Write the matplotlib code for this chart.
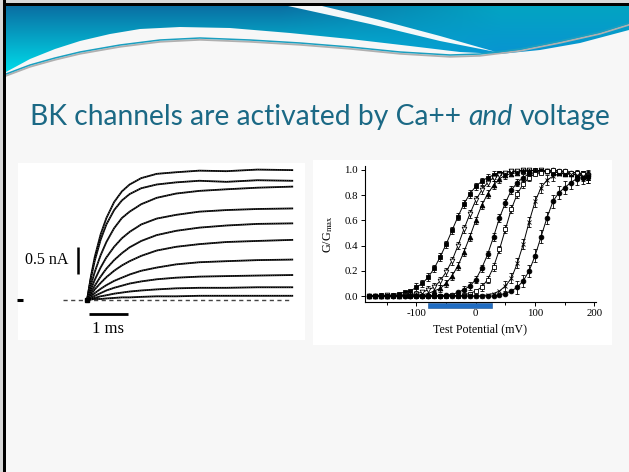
import numpy as np
import matplotlib
matplotlib.use("Agg")
import matplotlib.pyplot as plt
from matplotlib.patches import Rectangle, Polygon
import matplotlib.transforms as mtransforms

# ---------------- data: left panel (K+ current traces, nA vs ms) ----------------
trace_time_ms = [0, 0.1, 0.2, 0.35, 0.5, 0.7, 0.9, 1.1, 1.4, 1.8, 2.3, 2.9, 3.6, 4.4, 5.3]
trace_1 = [0, 0.44, 0.81, 1.23, 1.54, 1.84, 2.04, 2.17, 2.29, 2.37, 2.40, 2.43, 2.42, 2.45, 2.44]
trace_2 = [0, 0.41, 0.74, 1.13, 1.42, 1.69, 1.87, 1.99, 2.10, 2.17, 2.21, 2.24, 2.22, 2.25, 2.24]
trace_3 = [0, 0.28, 0.53, 0.84, 1.09, 1.35, 1.54, 1.66, 1.80, 1.92, 2.00, 2.05, 2.08, 2.11, 2.13]
trace_4 = [0, 0.20, 0.38, 0.61, 0.80, 1.00, 1.16, 1.28, 1.42, 1.53, 1.60, 1.66, 1.69, 1.71, 1.72]
trace_5 = [0, 0.14, 0.27, 0.44, 0.59, 0.75, 0.88, 0.99, 1.11, 1.22, 1.30, 1.36, 1.40, 1.43, 1.44]
trace_6 = [0, 0.10, 0.20, 0.32, 0.43, 0.55, 0.65, 0.73, 0.83, 0.93, 1.00, 1.05, 1.09, 1.11, 1.13]
trace_7 = [0, 0.07, 0.13, 0.21, 0.28, 0.36, 0.42, 0.48, 0.55, 0.61, 0.67, 0.71, 0.73, 0.75, 0.76]
trace_8 = [0, 0.04, 0.08, 0.13, 0.18, 0.23, 0.27, 0.31, 0.35, 0.39, 0.42, 0.44, 0.45, 0.46, 0.47]
trace_9 = [0, 0.02, 0.04, 0.07, 0.09, 0.12, 0.14, 0.16, 0.18, 0.20, 0.22, 0.23, 0.23, 0.24, 0.24]
trace_10 = [0, 0.01, 0.02, 0.02, 0.03, 0.04, 0.05, 0.05, 0.06, 0.07, 0.07, 0.08, 0.08, 0.08, 0.08]
traces = [trace_1, trace_2, trace_3, trace_4, trace_5, trace_6, trace_7, trace_8, trace_9, trace_10]
scale_current_nA = 0.5
scale_time_ms = 1.0
scale_current_label = "0.5 nA"
scale_time_label = "1 ms"

# ---------------- data: right panel (G/Gmax vs test potential) ----------------
voltage_mV = [-180, -170, -160, -150, -140, -130, -120, -110, -100, -90,
              -80, -70, -60, -50, -40, -30, -20, -10, 0, 10,
              20, 30, 40, 50, 60, 70, 80, 90, 100, 110,
              120, 130, 140, 150, 160, 170, 180, 190]
gv_A = [0.00, 0.00, 0.01, 0.00, 0.01, 0.02, 0.03, 0.04, 0.07, 0.10,
        0.15, 0.22, 0.31, 0.41, 0.52, 0.63, 0.73, 0.81, 0.87, 0.91,
        0.94, 0.96, 0.98, 0.98, 0.99, 0.99, 1.00, 0.99, 1.00, 0.99,
        0.99, 0.98, 0.98, 0.97, 0.97, 0.96, 0.96, 0.95]
gv_B = [0.00, 0.00, 0.00, 0.01, 0.00, 0.00, 0.01, 0.01, 0.02, 0.03,
        0.05, 0.07, 0.12, 0.19, 0.28, 0.40, 0.53, 0.65, 0.76, 0.84,
        0.90, 0.94, 0.96, 0.98, 0.99, 0.99, 1.00, 1.00, 0.99, 1.00,
        0.99, 0.98, 0.98, 0.97, 0.97, 0.96, 0.96, 0.95]
gv_C = [0.00, 0.00, 0.00, 0.00, 0.01, 0.00, 0.01, 0.01, 0.01, 0.01,
        0.02, 0.04, 0.06, 0.10, 0.16, 0.24, 0.35, 0.47, 0.60, 0.72,
        0.81, 0.88, 0.93, 0.96, 0.97, 0.98, 0.99, 0.99, 1.00, 0.99,
        0.99, 0.98, 0.98, 0.97, 0.97, 0.96, 0.96, 0.95]
gv_D = [0.00, 0.00, 0.00, 0.00, 0.00, 0.01, 0.00, 0.00, 0.00, 0.00,
        0.00, 0.01, 0.00, 0.01, 0.01, 0.03, 0.05, 0.08, 0.13, 0.22,
        0.33, 0.47, 0.62, 0.74, 0.84, 0.90, 0.94, 0.97, 0.98, 0.99,
        0.99, 1.00, 0.99, 0.99, 0.98, 0.98, 0.97, 0.97]
gv_E = [0.00, 0.00, 0.00, 0.00, 0.00, 0.00, 0.01, 0.00, 0.00, 0.00,
        0.00, 0.00, 0.00, 0.00, 0.01, 0.00, 0.01, 0.02, 0.04, 0.07,
        0.13, 0.23, 0.37, 0.53, 0.69, 0.81, 0.89, 0.94, 0.97, 0.98,
        0.99, 1.00, 0.99, 0.99, 0.98, 0.98, 0.97, 0.96]
gv_F = [0.00, 0.00, 0.00, 0.00, 0.00, 0.00, 0.00, 0.00, 0.00, 0.00,
        0.00, 0.00, 0.00, 0.00, 0.00, 0.00, 0.00, 0.00, 0.00, 0.00,
        0.01, 0.02, 0.04, 0.08, 0.14, 0.26, 0.41, 0.59, 0.75, 0.86,
        0.92, 0.95, 0.97, 0.97, 0.97, 0.96, 0.95, 0.94]
gv_G = [0.00, 0.00, 0.00, 0.00, 0.00, 0.00, 0.00, 0.00, 0.00, 0.00,
        0.00, 0.00, 0.00, 0.00, 0.00, 0.00, 0.00, 0.00, 0.00, 0.00,
        0.00, 0.00, 0.01, 0.02, 0.04, 0.07, 0.12, 0.20, 0.32, 0.47,
        0.62, 0.75, 0.82, 0.86, 0.90, 0.93, 0.94, 0.95]
gv_series = [gv_A, gv_B, gv_C, gv_D, gv_E, gv_F, gv_G]
gv_err = [0.03, 0.03, 0.03, 0.03, 0.03, 0.04, 0.05]
physiological_range_mV = [-80, 28]
gv_xticks = [-100, 0, 100, 200]
gv_yticks = [0.0, 0.2, 0.4, 0.6, 0.8, 1.0]
gv_xlabel = "Test Potential (mV)"
gv_ylabel = r"G/G$_{\mathrm{max}}$"

title_parts = ["BK channels are activated by Ca++", "and", "voltage"]

# ---------------- figure ----------------
W, H = 629, 472
plt.rcParams["font.family"] = ["Liberation Serif", "DejaVu Serif"]
plt.rcParams["mathtext.fontset"] = "stix"
plt.rcParams["axes.unicode_minus"] = False
fig = plt.figure(figsize=(W / 100, H / 100), dpi=100)
fig.patch.set_facecolor("#f7f7f7")

bg = fig.add_axes([0, 0, 1, 1])
bg.set_xlim(0, W)
bg.set_ylim(H, 0)
bg.axis("off")

# banner gradient
yy, xx = np.mgrid[0:80, 0:W]
v = np.clip((yy - 6) / 66.0, 0, 1)[..., None]
u = np.clip((xx - 280) / 220.0, 0, 1)[..., None]
c = lambda h: np.array([int(h[i:i + 2], 16) for i in (1, 3, 5)]) / 255.0
top = (1 - u) * c("#0a6fa3") + u * c("#03a4c2")
bot = (1 - u) * c("#00dcea") + u * c("#0a8ed8")
img = (1 - v) * top + v * bot
lower = [(6, 72), (30, 59), (55, 49), (80, 41), (110, 34), (140, 29), (180, 27),
         (230, 28), (290, 33), (350, 39), (410, 46), (460, 52), (500, 54),
         (540, 50), (580, 43), (629, 30)]
banner_pts = [(0, 0), (W, 0)] + lower[::-1] + [(0, 74)]
clip = Polygon(banner_pts, closed=True, facecolor="none", edgecolor="none", transform=bg.transData)
bg.add_patch(clip)
im = bg.imshow(img, extent=(0, W, 80, 0), aspect="auto", zorder=1)
im.set_clip_path(clip)
bg.set_xlim(0, W)
bg.set_ylim(H, 0)
# white streak
bg.add_patch(Polygon([(288, 6), (322, 6), (380, 20), (440, 36), (496, 52), (440, 41), (370, 24)],
                     closed=True, facecolor="#f4f8fa", edgecolor="none", zorder=2))
# decorative line
lx = [6, 30, 55, 80, 120, 160, 200, 250, 300, 350, 400, 450, 480, 520, 560, 600, 629]
ly = [74, 65, 58, 52, 45, 40, 38, 40, 43, 47, 52, 55, 54, 49, 41, 32, 23]
bg.plot(lx, [y + 1.8 for y in ly], color="#b0b0b0", lw=1.3, zorder=2)
bg.plot(lx, ly, color="#1a9fc0", lw=1.1, zorder=3)
# borders
bg.add_patch(Rectangle((0, 0), W, 2.5, facecolor="#d8d8d8", edgecolor="none", zorder=4))
bg.add_patch(Rectangle((0, 2.5), W, 3.5, facecolor="black", edgecolor="none", zorder=4))
bg.add_patch(Rectangle((2.5, 0), 3.5, H, facecolor="black", edgecolor="none", zorder=4))
bg.add_patch(Rectangle((0, 0), 2.5, H, facecolor="#d8d8d8", edgecolor="none", zorder=4))

# panel backgrounds
bg.add_patch(Rectangle((18, 163), 287, 177, facecolor="white", edgecolor="none", zorder=1))
bg.add_patch(Rectangle((313, 160), 299, 185, facecolor="white", edgecolor="none", zorder=1))

# title (fit to width)
tcol = "#1b6985"
fig.canvas.draw()
r = fig.canvas.get_renderer()

def title_width(fs):
    ws = []
    for i, s in enumerate(title_parts):
        t = bg.text(0, 0, s, fontsize=fs, family="Lato", fontstyle="italic" if i == 1 else "normal")
        ws.append(t.get_window_extent(r).width)
        t.remove()
    a1 = bg.text(0, 0, "a a", fontsize=fs, family="Lato")
    a2 = bg.text(0, 0, "aa", fontsize=fs, family="Lato")
    sp = a1.get_window_extent(r).width - a2.get_window_extent(r).width
    a1.remove(); a2.remove()
    return ws, sp

fs = 20.0
for _ in range(3):
    ws, sp = title_width(fs)
    total = sum(ws) + 2 * sp
    fs = fs * 582.0 / total
ws, sp = title_width(fs)
x0 = 30
for i, s in enumerate(title_parts):
    bg.text(x0, 125, s, fontsize=fs, family="Lato", color=tcol, va="baseline",
            fontstyle="italic" if i == 1 else "normal", zorder=5)
    x0 += ws[i] + sp

# ---------------- left panel: current traces ----------------
axL = fig.add_axes([15 / W, (H - 345) / H, 285 / W, 185 / H])
axL.set_xlim(-1.86, 5.50)
axL.set_ylim(-0.844, 2.63)
axL.axis("off")
axL.plot([-0.62, trace_time_ms[-1]], [0, 0], color="#444444", lw=1.0, ls=(0, (3, 2.5)))
for tr in traces:
    axL.plot(trace_time_ms, tr, color="black", lw=1.3, solid_joinstyle="round")
    axL.plot(trace_time_ms, tr, color="#bbbbbb", lw=0.4, ls=(0, (1, 3)))
axL.plot([0], [0], "s", color="black", ms=3.5)
axL.plot([-1.82, -1.66], [0, 0], color="black", lw=2.2, solid_capstyle="butt")
axL.plot([-0.24, -0.24], [0.49, 0.49 + scale_current_nA], color="black", lw=1.8, solid_capstyle="butt")
axL.text(-0.47, 0.75, scale_current_label, ha="right", va="center", fontsize=11.5)
axL.plot([0.05, 0.05 + scale_time_ms], [-0.27, -0.27], color="black", lw=2.0, solid_capstyle="butt")
axL.text(0.55, -0.55, scale_time_label, ha="center", va="center", fontsize=12)

# ---------------- right panel: G/Gmax ----------------
axR = fig.add_axes([364.8 / W, 170.3 / H, 231.4 / W, 135.5 / H])
axR.patch.set_alpha(0)
axR.set_xlim(-187, 203)
axR.set_ylim(-0.045, 1.03)
for s in ("top", "right"):
    axR.spines[s].set_visible(False)
for s in ("left", "bottom"):
    axR.spines[s].set_linewidth(0.8)
markers = [("s", "black"), ("v", "white"), ("^", "black"), ("o", "black"),
           ("s", "white"), ("x", "black"), ("o", "black")]
for g, (m, fc), e in zip(gv_series, markers, gv_err):
    axR.plot(voltage_mV, g, color="black", lw=0.7, zorder=3)
    vv = [x for x, y in zip(voltage_mV, g) if 0.04 < y < 0.97]
    gg = [y for y in g if 0.04 < y < 0.97]
    axR.errorbar(vv, gg, yerr=e, fmt="none", ecolor="black", elinewidth=0.6, capsize=1.5,
                 capthick=0.6, zorder=3)
    axR.plot(voltage_mV, g, ls="none", marker=m, ms=3.4, mfc=fc, mec="black", mew=0.6, zorder=4)
axR.set_xticks(gv_xticks)
axR.set_xticks([-150, -50, 50, 150], minor=True)
axR.set_yticks(gv_yticks)
axR.set_yticklabels([f"{t:.1f}" for t in gv_yticks])
axR.tick_params(axis="both", which="both", direction="out", length=3, width=0.7, labelsize=7.8, pad=2)
axR.tick_params(axis="x", which="minor", length=2)
axR.set_xlabel(gv_xlabel, fontsize=8.6, labelpad=4)
axR.set_ylabel(gv_ylabel, fontsize=8.8, labelpad=7)
trans = mtransforms.blended_transform_factory(axR.transData, axR.transAxes)
axR.add_patch(Rectangle((physiological_range_mV[0], -0.049),
                        physiological_range_mV[1] - physiological_range_mV[0], 0.043,
                        transform=trans, clip_on=False, facecolor="#1f6cc2",
                        edgecolor="#1a4f8f", lw=0.4, zorder=6))

fig.savefig("out.png", dpi=100, facecolor=fig.get_facecolor())
